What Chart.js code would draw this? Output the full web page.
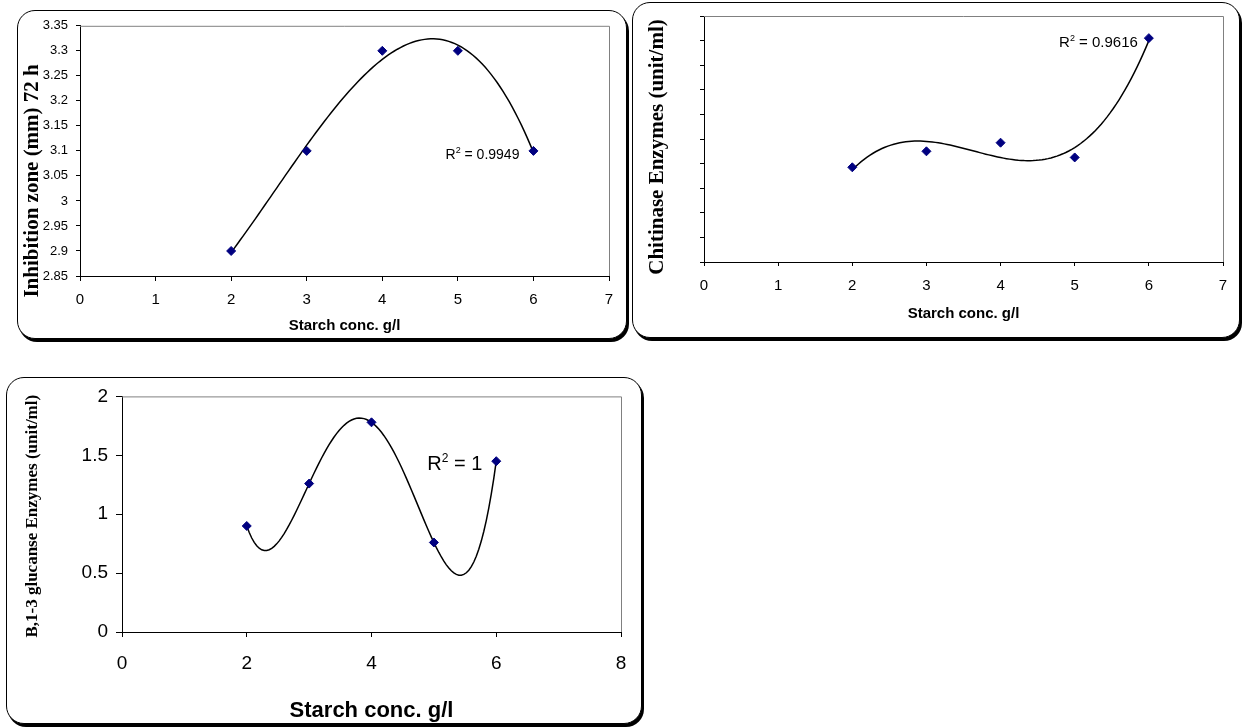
<!DOCTYPE html>
<html>
<head>
<meta charset="utf-8">
<title>Starch concentration effects</title>
<script src="https://cdn.jsdelivr.net/npm/chart.js@4.4.1/dist/chart.umd.min.js"></script>
<style>
    html, body { margin: 0; padding: 0; background: #fff; }
    body { position: relative; width: 1244px; height: 727px; overflow: hidden; }
    .frame {
        position: absolute;
        box-sizing: border-box;
        border: 1px solid #000;
        border-radius: 18px;
        box-shadow: 2px 3px 0 #000;
        background: #fff;
    }
    canvas { position: absolute; }
</style>
</head>
<body>
<div class="frame" style="left:17px;top:10px;width:610px;height:329px"></div>
<canvas id="inhibitionChart" style="left:17px;top:10px" width="610" height="329"></canvas>

<div class="frame" style="left:632px;top:2px;width:608px;height:336px"></div>
<canvas id="chitinaseChart" style="left:632px;top:2px" width="608" height="336"></canvas>

<div class="frame" style="left:6px;top:377px;width:636px;height:347px"></div>
<canvas id="glucanaseChart" style="left:6px;top:377px" width="636" height="347"></canvas>

<script>
// Starch conc. g/l
const starchConc = [2, 3, 4, 5, 6];

// Measured responses
const inhibitionZone = [2.9, 3.1, 3.3, 3.3, 3.1];
const chitinase = [3.85, 4.5, 4.85, 4.25, 9.1];
const glucanase = [0.9, 1.26, 1.78, 0.76, 1.45];

// Axis ticks
const xTicksTo7 = [0, 1, 2, 3, 4, 5, 6, 7];
const xTicksTo8 = [0, 2, 4, 6, 8];
const inhibitionTicks = [2.85, 2.9, 2.95, 3, 3.05, 3.1, 3.15, 3.2, 3.25, 3.3, 3.35];
const chitinaseTicks = [0, 1, 2, 3, 4, 5, 6, 7, 8, 9, 10];
const glucanaseTicks = [0, 0.5, 1, 1.5, 2];

// Trend lines (polynomial order) and their R² labels
const trendOrders = [3, 3, 4];
const r2Values = ['0.9949', '0.9616', '1'];

(() => {
    'use strict';

    const SANS = '"Liberation Sans", Arial, sans-serif';
    const SERIF = '"Liberation Serif", "Times New Roman", serif';

    // Least squares polynomial fit, like the Excel trend line
    function polyFit(xs, ys, order) {
        const mean = xs.reduce((a, b) => a + b, 0) / xs.length;
        const n = order + 1;
        const m = [];
        for (let i = 0; i < n; i++) {
            m.push(new Array(n + 1).fill(0));
            for (let k = 0; k < xs.length; k++) {
                const t = xs[k] - mean;
                for (let j = 0; j < n; j++) m[i][j] += Math.pow(t, i + j);
                m[i][n] += ys[k] * Math.pow(t, i);
            }
        }
        for (let c = 0; c < n; c++) {
            let p = c;
            for (let r = c + 1; r < n; r++) {
                if (Math.abs(m[r][c]) > Math.abs(m[p][c])) p = r;
            }
            [m[c], m[p]] = [m[p], m[c]];
            for (let r = 0; r < n; r++) {
                if (r === c) continue;
                const f = m[r][c] / m[c][c];
                for (let j = c; j <= n; j++) m[r][j] -= f * m[c][j];
            }
        }
        const coef = m.map((row, i) => row[n] / row[i]);
        return x => coef.reduce((s, a, i) => s + a * Math.pow(x - mean, i), 0);
    }

    // Gray top and right edge of the plot area
    const plotEdges = {
        id: 'plotEdges',
        beforeDatasetsDraw(chart) {
            const {ctx, chartArea: a} = chart;
            ctx.save();
            ctx.strokeStyle = '#808080';
            ctx.lineWidth = 1;
            ctx.beginPath();
            ctx.moveTo(a.left, a.top + 0.5);
            ctx.lineTo(a.right + 0.5, a.top + 0.5);
            ctx.lineTo(a.right + 0.5, a.bottom);
            ctx.stroke();
            ctx.restore();
        }
    };

    // Rotated y axis title, placed like in the original sheet
    const yTitle = {
        id: 'yTitle',
        afterDraw(chart, args, o) {
            const {ctx, chartArea: a} = chart;
            ctx.save();
            ctx.translate(o.x, (a.top + a.bottom) / 2 + o.shift);
            ctx.rotate(-Math.PI / 2);
            ctx.font = 'bold ' + o.size + 'px ' + SERIF;
            ctx.fillStyle = '#000';
            ctx.textAlign = 'center';
            ctx.textBaseline = 'middle';
            ctx.fillText(o.text, 0, 0);
            ctx.restore();
        }
    };

    // "R² = ..." next to the last point
    const r2Label = {
        id: 'r2Label',
        afterDatasetsDraw(chart, args, o) {
            const pts = chart.getDatasetMeta(0).data;
            const p = pts[pts.length - 1];
            const ctx = chart.ctx;
            const big = o.size + 'px ' + SANS;
            const small = Math.round(o.size * 0.62) + 'px ' + SANS;
            const rest = ' = ' + o.value;

            ctx.save();
            ctx.fillStyle = '#000';
            ctx.textAlign = 'left';
            ctx.textBaseline = 'alphabetic';
            ctx.font = big;
            const wR = ctx.measureText('R').width;
            const wRest = ctx.measureText(rest).width;
            ctx.font = small;
            const w2 = ctx.measureText('2').width;

            let x = p.x - o.dx - (wR + w2 + wRest);
            const y = p.y + o.dy;
            ctx.font = big;
            ctx.fillText('R', x, y);
            x += wR;
            ctx.font = small;
            ctx.fillText('2', x, y - o.size * 0.42);
            x += w2;
            ctx.font = big;
            ctx.fillText(rest, x, y);
            ctx.restore();
        }
    };

    function tickLabel(v) {
        return String(+Number(v).toFixed(2));
    }

    function drawChart(id, s) {
        const fit = polyFit(starchConc, s.values, s.order);
        const first = starchConc[0];
        const last = starchConc[starchConc.length - 1];
        const curve = [];
        for (let x = first; x <= last + 1e-9; x += 0.04) {
            curve.push({x: x, y: fit(x)});
        }

        new Chart(document.getElementById(id), {
            type: 'scatter',
            data: {
                datasets: [{
                    data: starchConc.map((x, i) => ({x: x, y: s.values[i]})),
                    pointStyle: 'rectRot',
                    pointRadius: 4.5,
                    backgroundColor: '#000080',
                    borderColor: '#000080',
                    borderWidth: 1
                }, {
                    data: curve,
                    showLine: true,
                    pointRadius: 0,
                    borderColor: '#000',
                    borderWidth: 1.5,
                    tension: 0,
                    fill: false
                }]
            },
            options: {
                responsive: false,
                animation: false,
                devicePixelRatio: 1,
                layout: {
                    padding: {top: s.padTop, right: s.padRight, left: 0, bottom: 0}
                },
                plugins: {
                    legend: {display: false},
                    tooltip: {enabled: false},
                    r2Label: s.r2,
                    yTitle: s.yTitle
                },
                scales: {
                    x: {
                        type: 'linear',
                        min: s.xTicks[0],
                        max: s.xTicks[s.xTicks.length - 1],
                        afterBuildTicks: sc => { sc.ticks = s.xTicks.map(v => ({value: v})); },
                        afterFit: sc => { sc.height = s.xAxisH; },
                        grid: {drawOnChartArea: false, color: '#000', tickLength: s.xTickLen},
                        border: {color: '#000', width: 1},
                        ticks: {
                            color: '#000',
                            autoSkip: false,
                            maxRotation: 0,
                            padding: s.xTickPad,
                            font: {family: SANS, size: s.xTickFont},
                            callback: tickLabel
                        },
                        title: {
                            display: true,
                            text: 'Starch conc. g/l',
                            color: '#000',
                            font: {family: SANS, size: s.xTitleFont, weight: 'bold'},
                            padding: {top: 0, bottom: s.xTitlePad}
                        }
                    },
                    y: {
                        type: 'linear',
                        min: s.yTicks[0],
                        max: s.yTicks[s.yTicks.length - 1],
                        afterBuildTicks: sc => { sc.ticks = s.yTicks.map(v => ({value: v})); },
                        afterFit: sc => { sc.width = s.yAxisW; },
                        grid: {drawOnChartArea: false, color: '#000', tickLength: s.yTickLen},
                        border: {color: '#000', width: 1},
                        ticks: {
                            display: s.yTickFont > 0,
                            color: '#000',
                            autoSkip: false,
                            padding: s.yTickPad,
                            font: {family: SANS, size: s.yTickFont || 12},
                            callback: tickLabel
                        },
                        title: {display: false}
                    }
                }
            },
            plugins: [plotEdges, r2Label, yTitle]
        });
    }

    // Inhibition zone
    drawChart('inhibitionChart', {
        values: inhibitionZone, order: trendOrders[0],
        xTicks: xTicksTo7, yTicks: inhibitionTicks,
        padTop: 14, padRight: 18, yAxisW: 63, xAxisH: 63,
        yTickFont: 13, yTickLen: 4, yTickPad: 8,
        xTickFont: 15, xTickLen: 5, xTickPad: 10,
        xTitleFont: 15, xTitlePad: 4,
        yTitle: {text: 'Inhibition zone (mm) 72 h', size: 21, x: 16, shift: 30},
        r2: {value: r2Values[0], size: 14, dx: 14, dy: 8}
    });

    // Chitinase
    drawChart('chitinaseChart', {
        values: chitinase, order: trendOrders[1],
        xTicks: xTicksTo7, yTicks: chitinaseTicks,
        padTop: 14, padRight: 17, yAxisW: 72, xAxisH: 76,
        yTickFont: 0, yTickLen: 4, yTickPad: 0,
        xTickFont: 15, xTickLen: 4, xTickPad: 11,
        xTitleFont: 15, xTitlePad: 15,
        yTitle: {text: 'Chitinase Enzymes (unit/ml)', size: 21, x: 26, shift: 8},
        r2: {value: r2Values[1], size: 15, dx: 11, dy: 9}
    });

    // B,1-3 glucanase
    drawChart('glucanaseChart', {
        values: glucanase, order: trendOrders[2],
        xTicks: xTicksTo8, yTicks: glucanaseTicks,
        padTop: 17, padRight: 21, yAxisW: 116, xAxisH: 92,
        yTickFont: 19, yTickLen: 6, yTickPad: 8,
        xTickFont: 19, xTickLen: 5, xTickPad: 15,
        xTitleFont: 22, xTitlePad: 0,
        yTitle: {text: 'B,1-3 glucanse Enzymes (unit/ml)', size: 17, x: 27, shift: 2},
        r2: {value: r2Values[2], size: 20, dx: 14, dy: 9}
    });
})();
</script>
</body>
</html>
